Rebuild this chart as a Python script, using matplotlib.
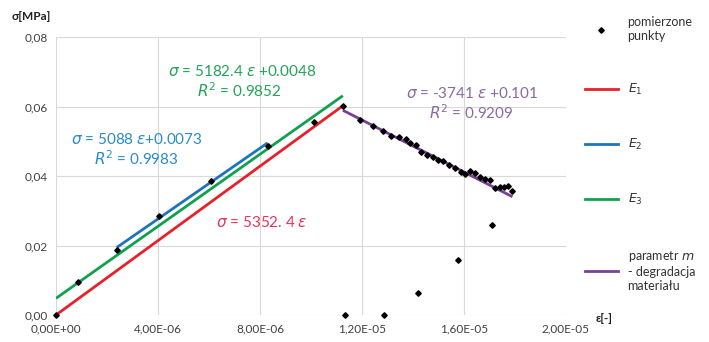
import matplotlib
matplotlib.use("Agg")
import matplotlib.pyplot as plt
from matplotlib.lines import Line2D
import numpy as np

plt.rcParams['font.family'] = ['Lato', 'DejaVu Sans']
plt.rcParams['mathtext.fontset'] = 'dejavusans'

# measured points (strain in 1e-6, stress in MPa)
eps_meas = [0, 0.875, 2.38, 4.05, 6.08, 8.3, 10.1, 11.25, 11.92, 12.44, 12.84, 13.12,
            13.46, 13.73, 13.88, 14.12, 14.3, 14.56, 14.8, 15.0, 15.19, 15.43, 15.65,
            15.87, 16.04, 16.24, 16.43, 16.63, 16.82, 17.02, 17.2, 17.4, 17.57, 17.74,
            17.9, 11.33, 12.87, 14.2, 15.76, 17.08]
sig_meas = [0, 0.0096, 0.0187, 0.0286, 0.0387, 0.0487, 0.0556, 0.0601, 0.0561, 0.0545,
            0.0530, 0.0515, 0.0511, 0.0507, 0.0494, 0.0488, 0.0470, 0.0461, 0.0454,
            0.0446, 0.0443, 0.0432, 0.0422, 0.0411, 0.0406, 0.0415, 0.0408, 0.0396,
            0.0390, 0.0389, 0.0365, 0.0367, 0.0369, 0.0371, 0.0358, 0, 0, 0.0062,
            0.0158, 0.0259]

# fitted lines: slope, intercept, eps range (1e-6)
E1 = (5352.4, 0.0, [0, 11.25])
E2 = (5088.0, 0.0073, [2.38, 8.3])
E3 = (5182.4, 0.0048, [0, 11.25])
Em = (-3741.0, 0.101, [11.25, 17.9])

x_ticks = [0, 4e-6, 8e-6, 1.2e-5, 1.6e-5, 2e-5]
x_labels = ['0,00E+00', '4,00E-06', '8,00E-06', '1,20E-05', '1,60E-05', '2,00E-05']
y_ticks = [0, 0.02, 0.04, 0.06, 0.08]
y_labels = ['0,00', '0,02', '0,04', '0,06', '0,08']

c_red = '#E8202A'
c_blue = '#1C74BC'
c_green = '#10A050'
c_purple = '#7A3F96'

fig = plt.figure(figsize=(7.09, 3.42), dpi=100)
ax = fig.add_axes([56/709, 1-315/342, (566-56)/709, (315-37)/342])

def fit_line(p):
    k, b, r = p
    x = np.array(r) * 1e-6
    return x, k * x + b

for p, c in [(E1, c_red), (E2, c_blue), (E3, c_green), (Em, c_purple)]:
    x, y = fit_line(p)
    ax.plot(x, y, color=c, lw=2.0, solid_capstyle='butt', zorder=2)

ax.plot(np.array(eps_meas) * 1e-6, sig_meas, linestyle='none', marker='D',
        markersize=2.8, color='black', zorder=3, clip_on=False)

ax.set_xlim(0, 2e-5)
ax.set_ylim(0, 0.08)
ax.set_xticks(x_ticks)
ax.set_xticklabels(x_labels)
ax.set_yticks(y_ticks)
ax.set_yticklabels(y_labels)
ax.tick_params(length=0, labelsize=8.5, colors='#404040', pad=6)
ax.grid(True, color='#D9D9D9', lw=0.8)
ax.set_axisbelow(True)
for s in ax.spines.values():
    s.set_visible(False)

fs = 11
ax.text(7.29e-6, 0.0702, r'$\sigma$ = 5182.4 $\varepsilon$ +0.0048', color='#22A35A',
        fontsize=fs, ha='center', va='center')
ax.text(7.2e-6, 0.0647, r'$R^2$ = 0.9852', color='#22A35A', fontsize=fs, ha='center', va='center')
ax.text(3.18e-6, 0.0504, r'$\sigma$ = 5088 $\varepsilon$+0.0073', color='#2A8AC8',
        fontsize=fs, ha='center', va='center')
ax.text(3.14e-6, 0.0449, r'$R^2$ = 0.9983', color='#2A8AC8', fontsize=fs, ha='center', va='center')
ax.text(8.08e-6, 0.0265, r'$\sigma$ = 5352. 4 $\varepsilon$', color='#E8335A',
        fontsize=fs, ha='center', va='center')
ax.text(16.3e-6, 0.0636, r'$\sigma$ = -3741 $\varepsilon$ +0.101', color='#8A6AA0',
        fontsize=fs, ha='center', va='center')
ax.text(16.3e-6, 0.0581, r'$R^2$ = 0.9209', color='#8A6AA0', fontsize=fs, ha='center', va='center')

fig.text(12/709, 1-17/342, 'σ[MPa]', fontsize=8.5, fontweight='bold', color='#222222',
         ha='left', va='center')
fig.text(596/709, 1-318/342, 'ε[-]', fontsize=8.5, fontweight='bold', color='#222222',
         ha='left', va='center')

handles1 = [Line2D([], [], linestyle='none', marker='D', markersize=2.8, color='black'),
            Line2D([], [], color=c_red, lw=2.0),
            Line2D([], [], color=c_blue, lw=2.0),
            Line2D([], [], color=c_green, lw=2.0)]
labels1 = ['pomierzone\npunkty', '$E_1$', '$E_2$', '$E_3$']
handles2 = [Line2D([], [], color=c_purple, lw=2.0)]
labels2 = ['parametr $m$\n- degradacja\nmateriału']
common = dict(loc='upper left', frameon=False, fontsize=9, handlelength=2.6,
              handletextpad=0.8, borderaxespad=0, borderpad=0)
leg1 = fig.legend(handles1, labels1, bbox_to_anchor=(585/709, 1-16/342),
                  labelspacing=3.2, **common)
leg2 = fig.legend(handles2, labels2, bbox_to_anchor=(585/709, 1-249/342),
                  labelspacing=0.5, **common)
for leg in (leg1, leg2):
    for t in leg.get_texts():
        t.set_color('#333333')

fig.savefig('out.png', dpi=100)
